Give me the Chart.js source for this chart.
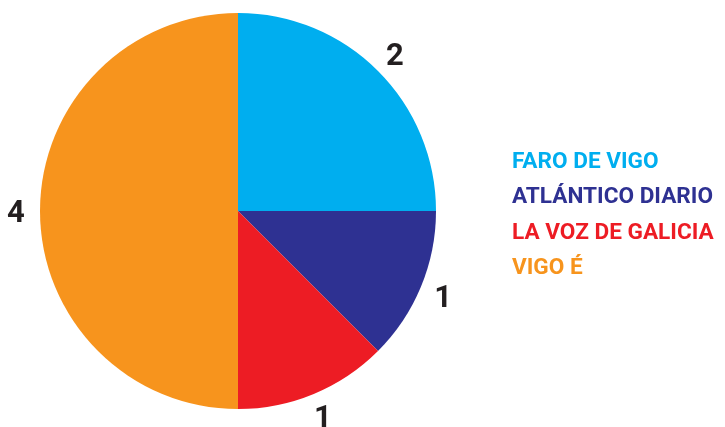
<!DOCTYPE html>
<html>
<head>
<meta charset="utf-8">
<script src="https://cdn.jsdelivr.net/npm/chart.js@4"></script>
<style>
  html, body { margin: 0; padding: 0; background: #ffffff; }
  #wrap { position: relative; width: 725px; height: 427px; }
  #legend { position: absolute; left: 512px; top: 143px; font-family: Roboto, sans-serif; font-weight: 700; font-size: 22.6px; line-height: 35.3px; }
  #legend div { white-space: nowrap; }
</style>
</head>
<body>
<div id="wrap">
  <canvas id="c" width="725" height="427"></canvas>
  <div id="legend"></div>
</div>
<script>
const categories = ["FARO DE VIGO", "ATLÁNTICO DIARIO", "LA VOZ DE GALICIA", "VIGO É"];
const values = [2, 1, 1, 4];
const colors = ["#00AEEF", "#2E3192", "#ED1C24", "#F7941D"];

const legend = document.getElementById('legend');
categories.forEach((name, i) => {
  const d = document.createElement('div');
  d.textContent = name;
  d.style.color = colors[i];
  legend.appendChild(d);
});

const outsideLabels = {
  id: 'outsideLabels',
  afterDatasetsDraw(chart) {
    const ctx = chart.ctx;
    const meta = chart.getDatasetMeta(0);
    ctx.save();
    ctx.font = '700 31px Roboto, sans-serif';
    ctx.fillStyle = '#231F20';
    ctx.textAlign = 'center';
    ctx.textBaseline = 'middle';
    meta.data.forEach((arc, i) => {
      const p = arc.getProps(['x', 'y', 'startAngle', 'endAngle', 'outerRadius'], true);
      const mid = (p.startAngle + p.endAngle) / 2;
      const r = p.outerRadius + 24;
      ctx.fillText(String(values[i]), p.x + Math.cos(mid) * r, p.y + Math.sin(mid) * r + 3);
    });
    ctx.restore();
  }
};

new Chart(document.getElementById('c'), {
  type: 'pie',
  data: {
    labels: categories,
    datasets: [{ data: values, backgroundColor: colors, borderWidth: 0 }]
  },
  options: {
    responsive: false,
    animation: false,
    layout: { padding: { top: 13, bottom: 18, left: 40, right: 289 } },
    plugins: { legend: { display: false }, tooltip: { enabled: false } }
  },
  plugins: [outsideLabels]
});
</script>
</body>
</html>
